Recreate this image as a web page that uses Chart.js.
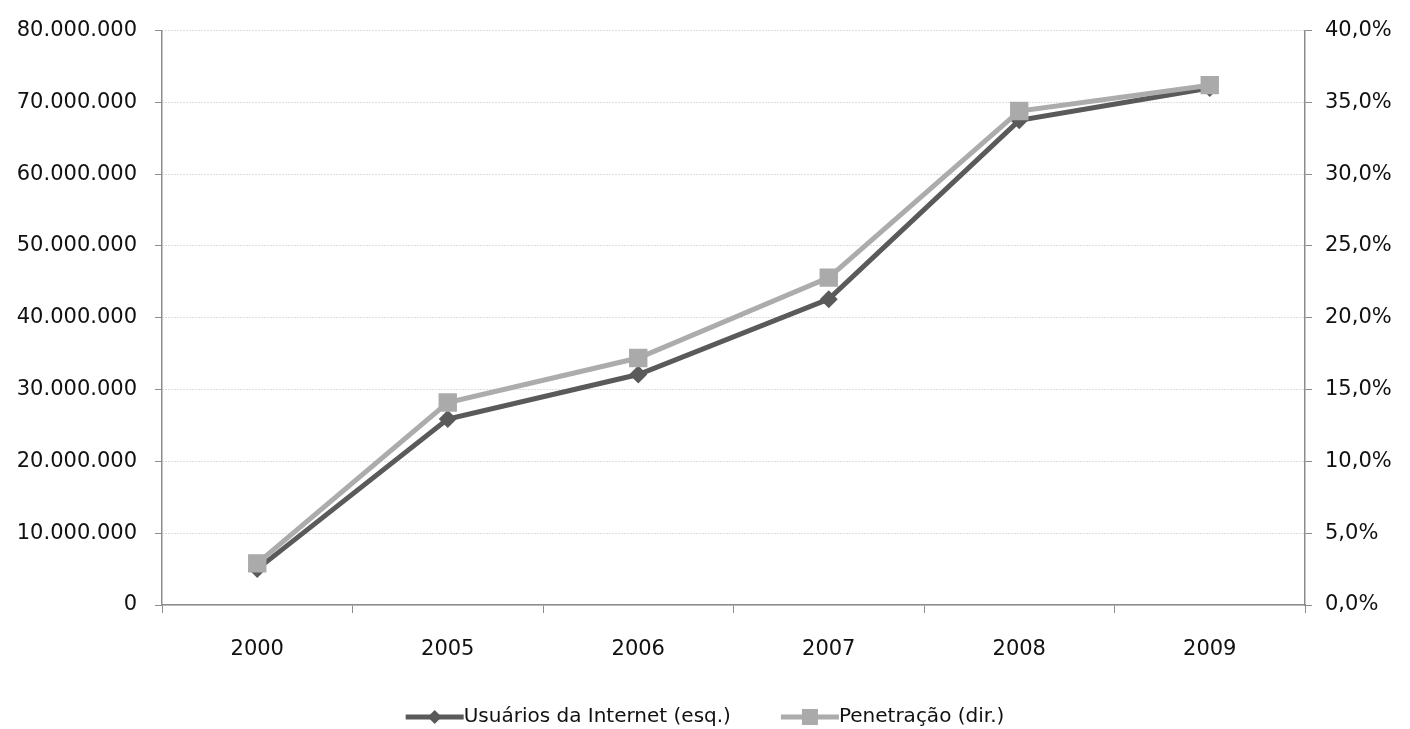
<!DOCTYPE html>
<html>
<head>
<meta charset="utf-8">
<script src="https://cdn.jsdelivr.net/npm/chart.js@4.4.1/dist/chart.umd.min.js"></script>
<style>
  html, body { margin:0; padding:0; background:#fff; }
  #wrap { width:1410px; height:729px; position:relative; }
</style>
</head>
<body>
<div id="wrap"><canvas id="chart" width="1410" height="729"></canvas></div>
<script>
// data
const years = ["2000", "2005", "2006", "2007", "2008", "2009"];
const usuarios = [5000000, 25900000, 32100000, 42600000, 67500000, 72000000];
const penetracao = [2.9, 14.1, 17.2, 22.8, 34.4, 36.2];
const seriesNames = ["Usuários da Internet (esq.)", "Penetração (dir.)"];

const DARK = "#5a5a5a";
const LIGHT = "#acacac";
const FONT = "'DejaVu Sans', sans-serif";
const TXT = "#111";

// 80000000 -> "80.000.000"
function fmtMil(v){
  return String(Math.round(v)).replace(/\B(?=(\d{3})+(?!\d))/g, ".");
}
function fmtPct(v){
  return v.toFixed(1).replace(".", ",") + "%";
}

// legend drawn by hand: line + marker then label
const legendPlugin = {
  id: "lineLegend",
  afterDraw(chart){
    const ctx = chart.ctx;
    const y = 717;
    const items = chart.data.datasets.slice().sort((a,b)=>a.legendIdx-b.legendIdx);
    ctx.save();
    ctx.font = "20px " + FONT;
    ctx.textBaseline = "middle";
    const sampleW = 58, gap = 50;
    let total = 0;
    items.forEach((d,i)=>{ total += sampleW + ctx.measureText(d.label).width + (i ? gap : 0); });
    let x = (chart.width - total) / 2;
    items.forEach((d,i)=>{
      if(i) x += gap;
      ctx.strokeStyle = d.borderColor;
      ctx.lineWidth = 5;
      ctx.beginPath();
      ctx.moveTo(x, y); ctx.lineTo(x + sampleW, y);
      ctx.stroke();
      ctx.fillStyle = d.pointBackgroundColor;
      const cx = x + sampleW/2;
      if(d.pointStyle === "rectRot"){
        ctx.beginPath();
        ctx.moveTo(cx - 7, y); ctx.lineTo(cx, y - 7); ctx.lineTo(cx + 7, y); ctx.lineTo(cx, y + 7);
        ctx.closePath(); ctx.fill();
      } else {
        ctx.fillRect(cx - 8, y - 8, 16, 16);
      }
      ctx.fillStyle = TXT;
      ctx.fillText(d.label, x + sampleW, y);
      x += sampleW + ctx.measureText(d.label).width;
    });
    ctx.restore();
  }
};

new Chart(document.getElementById("chart"), {
  type: "line",
  data: {
    labels: years,
    datasets: [
      {
        label: seriesNames[0], legendIdx: 0, order: 2,
        data: usuarios, yAxisID: "y",
        borderColor: DARK, backgroundColor: DARK, borderWidth: 5,
        pointStyle: "rectRot", pointRadius: 9, pointBackgroundColor: DARK, pointBorderWidth: 0,
        tension: 0
      },
      {
        label: seriesNames[1], legendIdx: 1, order: 1,
        data: penetracao, yAxisID: "y1",
        borderColor: LIGHT, backgroundColor: LIGHT, borderWidth: 5,
        pointStyle: "rect", pointRadius: 13, pointBackgroundColor: "#aaaaaa", pointBorderWidth: 0,
        tension: 0
      }
    ]
  },
  options: {
    responsive: false,
    animation: false,
    layout: { padding: { top: 25, left: 0, right: 0, bottom: 0 } },
    plugins: { legend: { display: false }, tooltip: { enabled: false } },
    scales: {
      x: {
        offset: true,
        grid: { offset: true, drawOnChartArea: false, drawTicks: true, tickLength: 8, tickColor: "#8c8c8c" },
        border: { color: "#8c8c8c", width: 1.5 },
        ticks: { color: TXT, font: { family: FONT, size: 21 }, padding: 24 },
        afterFit: (s) => { s.height = 124; }
      },
      y: {
        position: "left",
        min: 0, max: 80000000,
        ticks: { stepSize: 10000000, color: TXT, font: { family: FONT, size: 21 }, padding: 18, callback: fmtMil },
        grid: { color: "#bdbdbd", tickLength: 7, tickColor: "#8c8c8c", tickBorderDash: [] },
        border: { color: "#8c8c8c", width: 1.5, dash: [1, 2] },
        afterFit: (s) => { s.width = 162; }
      },
      y1: {
        position: "right",
        min: 0, max: 40,
        ticks: { stepSize: 5, color: TXT, font: { family: FONT, size: 21 }, padding: 13, callback: fmtPct },
        grid: { drawOnChartArea: false, tickLength: 7, tickColor: "#8c8c8c" },
        border: { color: "#8c8c8c", width: 1.5 },
        afterFit: (s) => { s.width = 105; }
      }
    }
  },
  plugins: [legendPlugin]
});
</script>
</body>
</html>
